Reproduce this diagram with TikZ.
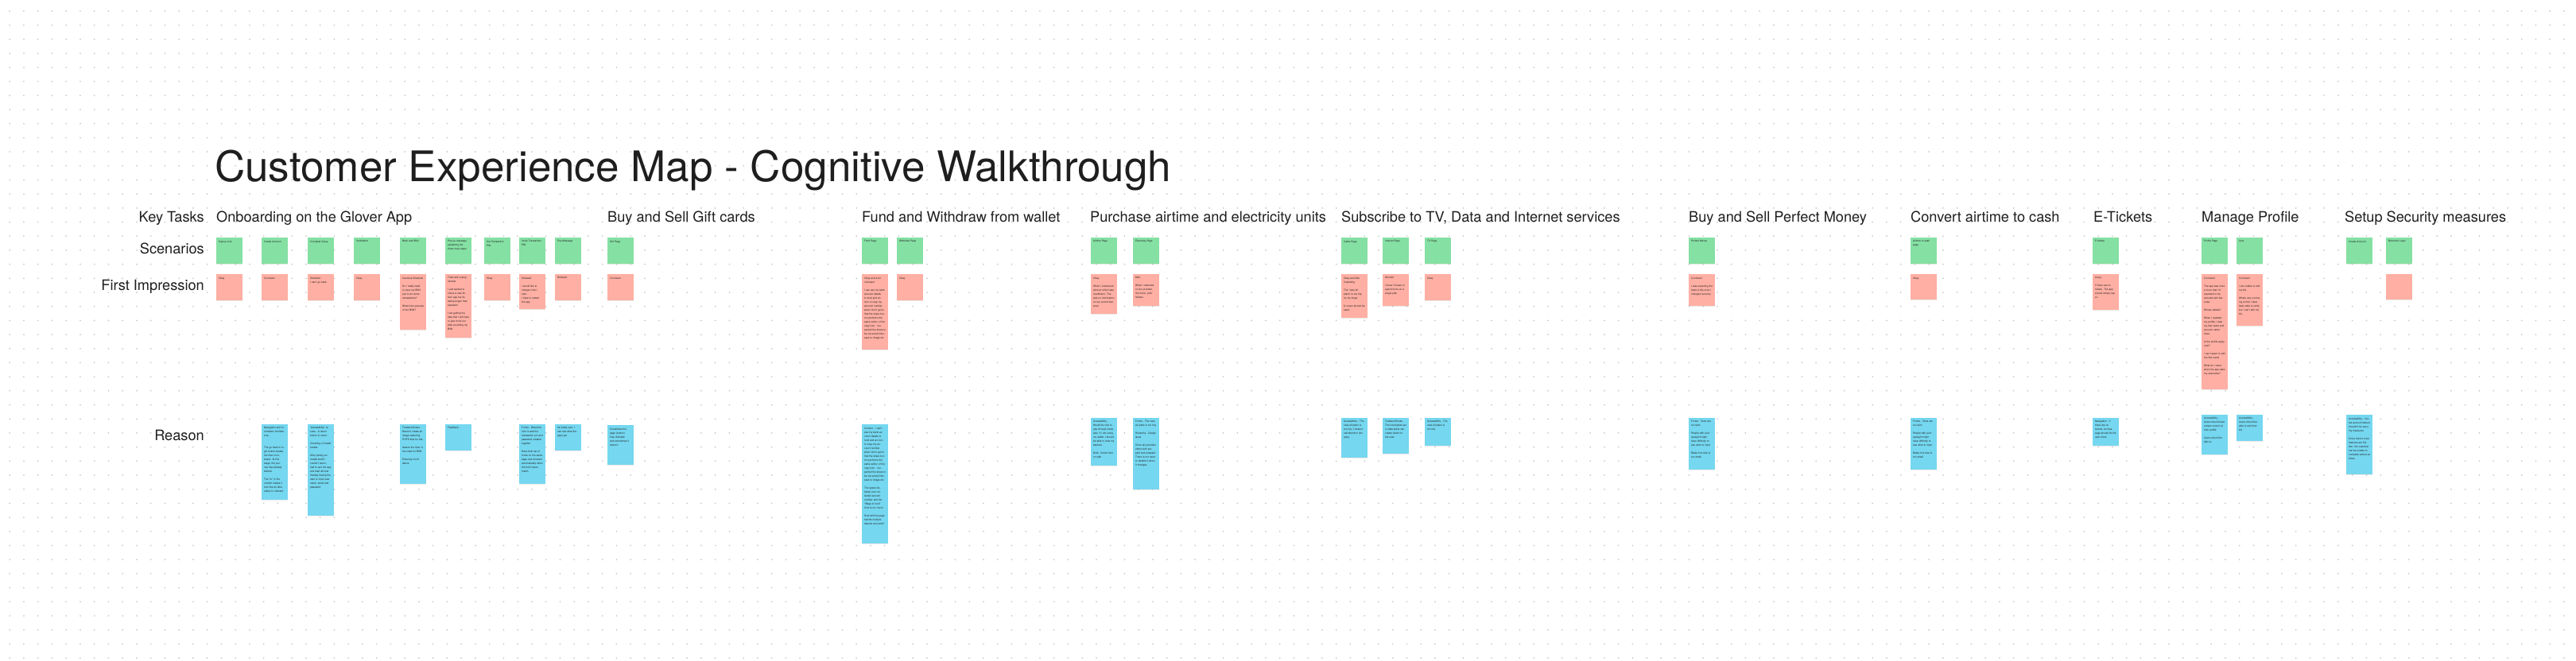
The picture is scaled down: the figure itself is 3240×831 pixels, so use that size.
\documentclass[tikz,border=0pt]{standalone}
\usepackage{fontspec}
\setmainfont{TeX Gyre Heros}
\usepackage{tikz}
\usetikzlibrary{shadows}
\definecolor{stgreen}{HTML}{85E0A3}
\definecolor{stred}{HTML}{FFAFA3}
\definecolor{stblue}{HTML}{75D7F0}
\definecolor{ink}{HTML}{1E1E1E}
\definecolor{dotgray}{HTML}{CACACA}

% one sticky: name, style, x, top y, height, text
\newcommand{\stickynote}[6]{%
 \node[#2,minimum height=#5pt] (#1) at (#3,#4) {};
 \node[notetext] at (#1.north west) {#6};}

\begin{document}
\begin{tikzpicture}[
 x=1pt,y=-1pt,
 every node/.style={text=ink},
 note/.style={anchor=north west,minimum width=33pt,inner sep=0pt,
   drop shadow={shadow xshift=0pt,shadow yshift=-0.8pt,opacity=0.18}},
 gnote/.style={note,fill=stgreen},
 rnote/.style={note,fill=stred},
 bnote/.style={note,fill=stblue},
 notetext/.style={anchor=north west,inner sep=0pt,xshift=3pt,yshift=-3.5pt,
   text width=27pt,align=left,font=\fontsize{3.1}{5}\selectfont},
 title/.style={anchor=base west,inner sep=0pt,font=\fontsize{53}{60}\selectfont},
 head/.style={anchor=base west,inner sep=0pt,font=\fontsize{18.2}{21}\selectfont},
 rowlab/.style={anchor=base east,inner sep=0pt,font=\fontsize{18.2}{21}\selectfont},
 dotrow/.style={draw=dotgray,line width=2pt,line cap=round,dash pattern=on 0pt off 17.75pt}
]
\useasboundingbox[fill=white] (0,0) rectangle (3240,831);
% dot grid, one dashed row each
\foreach \j in {0,...,46}
  \draw[dotrow] (12.2,14+\j*17.7) -- (3240,14+\j*17.7);

\node[title] (ttl) at (270,228) {Customer Experience Map - Cognitive Walkthrough};

\node[rowlab] (lkey) at (257,279) {Key Tasks};
\node[rowlab] (lsce) at (257,319) {Scenarios};
\node[rowlab] (limp) at (257,365) {First Impression};
\node[rowlab] (lrea) at (257,554) {Reason};

\node[head] (t1) at (272,279) {Onboarding on the Glover App};
\node[head] (t2) at (764,279) {Buy and Sell Gift cards};
\node[head] (t3) at (1084,279) {Fund and Withdraw from wallet};
\node[head] (t4) at (1371,279) {Purchase airtime and electricity units};
\node[head] (t5) at (1687,279) {Subscribe to TV, Data and Internet services};
\node[head] (t6) at (2124,279) {Buy and Sell Perfect Money};
\node[head] (t7) at (2403,279) {Convert airtime to cash};
\node[head] (t8) at (2633,279) {E-Tickets};
\node[head] (t9) at (2769,279) {Manage Profile};
\node[head] (t10) at (2949,279) {Setup Security measures};

% onboarding
\stickynote{ob1g}{gnote}{272}{299}{33}{Signup Link}
\stickynote{ob2g}{gnote}{329}{299}{33}{Create Account}
\stickynote{ob3g}{gnote}{387}{299}{33}{Complete Setup}
\stickynote{ob4g}{gnote}{445}{299}{33}{Verification}
\stickynote{ob5g}{gnote}{503}{299}{33}{Bank and BVN}
\stickynote{ob6g}{gnote}{560}{299}{33}{Pop up message explaining the three more steps}
\stickynote{ob7g}{gnote}{609}{299}{33}{Set Transaction PIN}
\stickynote{ob8g}{gnote}{653}{299}{33}{Verify Transaction PIN}
\stickynote{ob9g}{gnote}{698}{299}{33}{Pop Message}
\stickynote{ob1r}{rnote}{272}{345}{33}{Okay}
\stickynote{ob2r}{rnote}{329}{345}{33}{Confusion}
\stickynote{ob3r}{rnote}{387}{345}{33}{Stranded -\\ I can't go back.}
\stickynote{ob4r}{rnote}{445}{345}{33}{Okay}
\stickynote{ob5r}{rnote}{503}{345}{70}{Cautious Skeptical\\[5pt] Do I really need to input my BVN just to do some transactions?\\[5pt] What's the purpose of the BVN?}
\stickynote{ob6r}{rnote}{560}{345}{80}{Tired and Losing interest\\[5pt] I just wanted to check a new fintech app but its taking longer than expected\\[5pt] I am getting the idea that I will have to give more out after providing my BVN}
\stickynote{ob7r}{rnote}{609}{345}{33}{Okay}
\stickynote{ob8r}{rnote}{653}{345}{44}{Stressed\\[5pt] I would like to change it but I cant.\\ I have to restart the app}
\stickynote{ob9r}{rnote}{698}{345}{33}{Relieved}
\stickynote{ob2b}{bnote}{329}{534}{95}{Navigation and Information Architecture -\\[10pt] The go back to login button breaks the flow of onboard. At this stage, the journey has already started.\\[5pt] The "or" in the content makes it look like an alternative to onboard}
\stickynote{ob3b}{bnote}{387}{534}{115}{"Accessibility" Issues - A return button to return.\\[5pt] Checking of invalid emails.\\[5pt] After putting an invalid email I couldn't return, had to quit the app and start all over thereby having the user to input user name, email and password}
\stickynote{ob5b}{bnote}{503}{534}{75}{Trustworthiness - Need to create an image capturing POPS flow for this\\[5pt] Assure the User in the need for BVN\\[5pt] Ensuring Confidence}
\stickynote{ob6b}{bnote}{560}{534}{33}{Feedback -}
\stickynote{ob8b}{bnote}{653}{534}{75}{Forms - Would be nice to add the transaction pin and password creation together\\[5pt] Have both set of forms on the same page and proceed automatically when the both inputs match}
\stickynote{ob9b}{bnote}{698}{534}{33}{Its finally over, I can see what the apps got}

% gift cards
\stickynote{gc1g}{gnote}{764}{299}{33}{Gift Page}
\stickynote{gc1r}{rnote}{764}{345}{33}{Confused}
\stickynote{gc1b}{bnote}{764}{535}{50}{Sometimes the page (button) they clickable and sometimes it doesn't.}

% wallet
\stickynote{wa1g}{gnote}{1084}{299}{33}{Fund Page}
\stickynote{wa2g}{gnote}{1128}{299}{33}{Withdraw Page}
\stickynote{wa1r}{rnote}{1084}{345}{95}{Okay and a bit confused\\[5pt] I can see my bank account details to fund and an icon to copy my account number, what I don't get is that the share button performs the same action of the copy icon. I expected the share to be via social links, save to image etc}
\stickynote{wa2r}{rnote}{1128}{345}{33}{Okay}
\stickynote{wa1b}{bnote}{1084}{534}{150}{Content - I can't see my bank account details to fund and an icon to copy my account number, what I don't get is that the share button performs the same action of the copy icon. I expected the share to be via social links, save to image etc\\[5pt] The space between your selected account number and the "Ways to fund" from is too much.\\[5pt] How will this page handle multiple deposit accounts?}

% airtime and electricity
\stickynote{ae1g}{gnote}{1372}{299}{33}{Airtime Page}
\stickynote{ae2g}{gnote}{1425}{299}{33}{Electricity Page}
\stickynote{ae1r}{rnote}{1372}{345}{50}{Okay\\[5pt] When I entered an amount which was insufficient. The was no information on my current balance}
\stickynote{ae2r}{rnote}{1425}{345}{40}{Mild\\[5pt] When I switched on the provider, the menu "pick" flickers}
\stickynote{ae1b}{bnote}{1372}{526}{60}{Accessibility - Would be nice to pay through cards also, if I am using my wallet, I should be able to view my balance\\[5pt] Note: Check form on web}
\stickynote{ae2b}{bnote}{1425}{526}{90}{Forms - The view all plans is too tiny\\[5pt] Hierarchy - Design issue\\[5pt] Since all providers offers both prepaid and postpaid. There is not need to disable it when it changes.}

% tv, data and internet
\stickynote{tv1g}{gnote}{1687}{299}{33}{Cable Page}
\stickynote{tv2g}{gnote}{1739}{299}{33}{Internet Page}
\stickynote{tv3g}{gnote}{1792}{299}{33}{TV Page}
\stickynote{tv1r}{rnote}{1687}{345}{55}{Okay and little frustrating\\[5pt] The "view all plans" is too tiny for my finger.\\[5pt] A cursor should be used.}
\stickynote{tv2r}{rnote}{1739}{345}{40}{Worried\\[5pt] I know I'd have to spend more on a single plan}
\stickynote{tv3r}{rnote}{1792}{345}{33}{Okay}
\stickynote{tv1b}{bnote}{1687}{526}{50}{Accessibility - The view all plans is too tiny, it doesn't call attention (too grey).}
\stickynote{tv2b}{bnote}{1739}{526}{45}{Trustworthiness - The incomplete set of data plans can create doubt for the user.}
\stickynote{tv3b}{bnote}{1792}{526}{35}{Accessibility - The view all plans is too tiny.}

% perfect money
\stickynote{pm1g}{gnote}{2124}{299}{33}{Perfect Money}
\stickynote{pm1r}{rnote}{2124}{345}{40}{Confused\\[5pt] I was expecting the rates to flip once I changed currency}
\stickynote{pm1b}{bnote}{2124}{526}{65}{Forms - Texts are too faint.\\[5pt] People with poor eyesight might have difficulty to see what to input\\[5pt] Rates font size is too small}

% airtime to cash
\stickynote{ac1g}{gnote}{2403}{299}{33}{Airtime to cash page}
\stickynote{ac1r}{rnote}{2403}{345}{32}{Okay}
\stickynote{ac1b}{bnote}{2403}{526}{65}{Forms - Texts are too faint.\\[5pt] People with poor eyesight might have difficulty to see what to input\\[5pt] Rates font size is too small}

% e-tickets
\stickynote{et1g}{gnote}{2632}{299}{33}{E-tickets}
\stickynote{et1r}{rnote}{2632}{345}{45}{Angry\\[5pt] If there are no tickets. The app should simply say so}
\stickynote{et1b}{bnote}{2632}{526}{35}{Navigation - If there are no events, an message should let the user know}

% profile
\stickynote{mp1g}{gnote}{2769}{299}{33}{Profile Page}
\stickynote{mp2g}{gnote}{2813}{299}{33}{User}
\stickynote{mp1r}{rnote}{2769}{345}{145}{Confused\\[5pt] The app was more a more than I'd expected to be secured with features.\\[5pt] Whose details?\\[5pt] When I updated my profile, I saw my first name and account name there\\[5pt] Is the profile apply now?\\[5pt] I can't seem to edit the first name\\[5pt] What do I need when the app asks my username?}
\stickynote{mp2r}{rnote}{2813}{345}{65}{Confused\\[5pt] I am unable to edit my bio.\\[5pt] Whats very confusing is that I have been able to verify but I can't edit my bio.}
\stickynote{mp1b}{bnote}{2769}{522}{50}{Accessibility - Users should have certain control on their profile\\[5pt] Users should be able to}
\stickynote{mp2b}{bnote}{2813}{522}{33}{Accessibility - Users should be able to edit their bio}

% security
\stickynote{sc1g}{gnote}{2951}{299}{33}{Create Account}
\stickynote{sc2g}{gnote}{3001}{299}{33}{Biometric Login}
\stickynote{sc2r}{rnote}{3001}{345}{32}{}
\stickynote{sc1b}{bnote}{2951}{522}{75}{Accessibility - Create account feature shouldn't be security measures\\[5pt] Since there's more features are hidden, the customer can be unable to complete actions at times.}
\end{tikzpicture}
\end{document}
